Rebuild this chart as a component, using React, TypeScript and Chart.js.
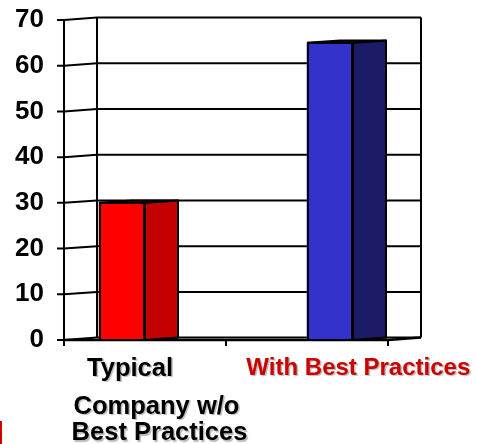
import { useEffect, useRef } from "react";
import { Chart, registerables } from "chart.js";

Chart.register(...registerables);

// ---- data ----
const categories: string[][] = [
  ["Typical", "Company w/o", "Best Practices"],
  ["With Best Practices"],
];
const typicalValues: (number | null)[] = [30, null];
const bestPracticeValues: (number | null)[] = [null, 65];
const yMin = 0;
const yMax = 70;
const yStep = 10;

// ---- styles ----
const FONT = '"Liberation Sans", Arial, Helvetica, sans-serif';
const DEPTH_X = 33;
const DEPTH_Y = -2.4;
const frontColors = ["#FF0000", "#3333CC"];
const sideColors = ["#C40000", "#1C1C66"];
const labelColors = ["#000000", "#CC0000"];
// per-category, per-line layout for the category labels (offset from category pixel, baseline y, size)
const labelLayout = [
  [
    { dx: -15, y: 375.5, size: 25.5 },
    { dx: 11.5, y: 413.5, size: 25.5 },
    { dx: 14.5, y: 440, size: 25.5 },
  ],
  [{ dx: 51.3, y: 374.5, size: 24 }],
];

const threeDPlugin = {
  id: "threeD",
  beforeDatasetsDraw(chart: any) {
    const { ctx, chartArea, scales } = chart;
    const { left, right, top, bottom } = chartArea;
    const y = scales.y;
    const x = scales.x;
    ctx.save();
    ctx.strokeStyle = "#000";
    ctx.lineWidth = 2;
    ctx.lineCap = "butt";
    // gridlines: tick mark + side wall + back wall
    for (let v = yMin; v <= yMax; v += yStep) {
      const yf = y.getPixelForValue(v);
      const yb = yf + DEPTH_Y;
      ctx.beginPath();
      ctx.moveTo(left - 7, yf);
      ctx.lineTo(left, yf);
      ctx.lineTo(left + DEPTH_X, yb);
      ctx.lineTo(right + DEPTH_X, yb);
      ctx.stroke();
    }
    // back wall verticals
    ctx.beginPath();
    ctx.moveTo(left + DEPTH_X, top + DEPTH_Y);
    ctx.lineTo(left + DEPTH_X, bottom + DEPTH_Y);
    ctx.moveTo(right + DEPTH_X, top + DEPTH_Y);
    ctx.lineTo(right + DEPTH_X, bottom + DEPTH_Y);
    // front left vertical
    ctx.moveTo(left, top);
    ctx.lineTo(left, bottom);
    ctx.stroke();
    // floor front edge
    ctx.beginPath();
    ctx.lineWidth = 2.5;
    ctx.moveTo(left, bottom);
    ctx.lineTo(right, bottom);
    ctx.lineTo(right + DEPTH_X, bottom + DEPTH_Y);
    ctx.stroke();
    // category boundary ticks
    ctx.lineWidth = 2;
    const n = categories.length;
    const p0 = x.getPixelForValue(0);
    const p1 = n > 1 ? x.getPixelForValue(1) : right;
    const w = p1 - p0;
    ctx.beginPath();
    for (let i = 0; i <= n; i++) {
      const bx = p0 - w / 2 + i * w;
      ctx.moveTo(bx, bottom);
      ctx.lineTo(bx, bottom + 6);
    }
    ctx.stroke();
    ctx.restore();
  },
  afterDatasetsDraw(chart: any) {
    const { ctx } = chart;
    ctx.save();
    ctx.strokeStyle = "#000";
    ctx.lineWidth = 2;
    ctx.lineJoin = "miter";
    chart.data.datasets.forEach((ds: any, di: number) => {
      const meta = chart.getDatasetMeta(di);
      meta.data.forEach((bar: any, i: number) => {
        if (ds.data[i] === null || ds.data[i] === undefined) return;
        const p = bar.getProps(["x", "y", "base", "width"], true);
        const l = p.x - p.width / 2;
        const r = p.x + p.width / 2;
        // side face
        ctx.beginPath();
        ctx.moveTo(r, p.y);
        ctx.lineTo(r + DEPTH_X, p.y + DEPTH_Y);
        ctx.lineTo(r + DEPTH_X, p.base + DEPTH_Y);
        ctx.lineTo(r, p.base);
        ctx.closePath();
        ctx.fillStyle = ds.sideColor;
        ctx.fill();
        ctx.stroke();
        // top face
        ctx.beginPath();
        ctx.moveTo(l, p.y);
        ctx.lineTo(r, p.y);
        ctx.lineTo(r + DEPTH_X, p.y + DEPTH_Y);
        ctx.lineTo(l + DEPTH_X, p.y + DEPTH_Y);
        ctx.closePath();
        ctx.fillStyle = ds.sideColor;
        ctx.fill();
        ctx.stroke();
        // front outline
        ctx.strokeRect(l + 1, p.y, p.width - 2, p.base - p.y);
      });
    });
    ctx.restore();
  },
  afterDraw(chart: any) {
    const { ctx, scales } = chart;
    const x = scales.x;
    ctx.save();
    ctx.textAlign = "center";
    ctx.textBaseline = "alphabetic";
    ctx.shadowColor = "rgba(0,0,0,0.28)";
    ctx.shadowOffsetX = 1.5;
    ctx.shadowOffsetY = 1.5;
    ctx.shadowBlur = 1;
    categories.forEach((lines, ci) => {
      const cx = x.getPixelForValue(ci);
      ctx.fillStyle = labelColors[ci];
      lines.forEach((text, li) => {
        const lay = labelLayout[ci][li];
        ctx.font = `bold ${lay.size}px ${FONT}`;
        ctx.fillText(text, cx + lay.dx, lay.y);
      });
    });
    ctx.restore();
  },
};

export default function App() {
  const canvasRef = useRef<HTMLCanvasElement | null>(null);

  useEffect(() => {
    if (!canvasRef.current) return;
    const chart = new Chart(canvasRef.current, {
      type: "bar",
      data: {
        labels: categories.map((c) => c.join(" ")),
        datasets: [
          {
            label: "Typical Company w/o Best Practices",
            data: typicalValues,
            backgroundColor: frontColors[0],
            borderColor: "#000",
            borderWidth: 0,
            barThickness: 46,
            sideColor: sideColors[0],
          } as any,
          {
            label: "With Best Practices",
            data: bestPracticeValues,
            backgroundColor: frontColors[1],
            borderColor: "#000",
            borderWidth: 0,
            barThickness: 46,
            sideColor: sideColors[1],
          } as any,
        ],
      },
      options: {
        animation: false,
        responsive: true,
        maintainAspectRatio: false,
        layout: { padding: { left: 0, top: 20, right: 89, bottom: 104 } },
        plugins: {
          legend: { display: false },
          tooltip: { enabled: false },
        },
        scales: {
          x: {
            type: "category",
            display: false,
            offset: true,
            grid: { display: false },
          },
          y: {
            min: yMin,
            max: yMax,
            grid: { display: false, drawTicks: false },
            border: { display: false },
            ticks: {
              stepSize: yStep,
              color: "#000",
              padding: 20,
              font: { family: FONT, size: 26, weight: "bold" },
            },
            afterFit: (s: any) => {
              s.width = 64;
              s.paddingTop = 0;
              s.paddingBottom = 0;
            },
          },
        },
      },
      plugins: [threeDPlugin],
    });
    return () => chart.destroy();
  }, []);

  return (
    <div style={{ position: "absolute", left: 0, top: 0, width: 477, height: 444, background: "#fff" }}>
      <canvas ref={canvasRef} />
      <div style={{ position: "absolute", left: 0, top: 421, width: 2, height: 23, background: "#CC0000" }} />
    </div>
  );
}
